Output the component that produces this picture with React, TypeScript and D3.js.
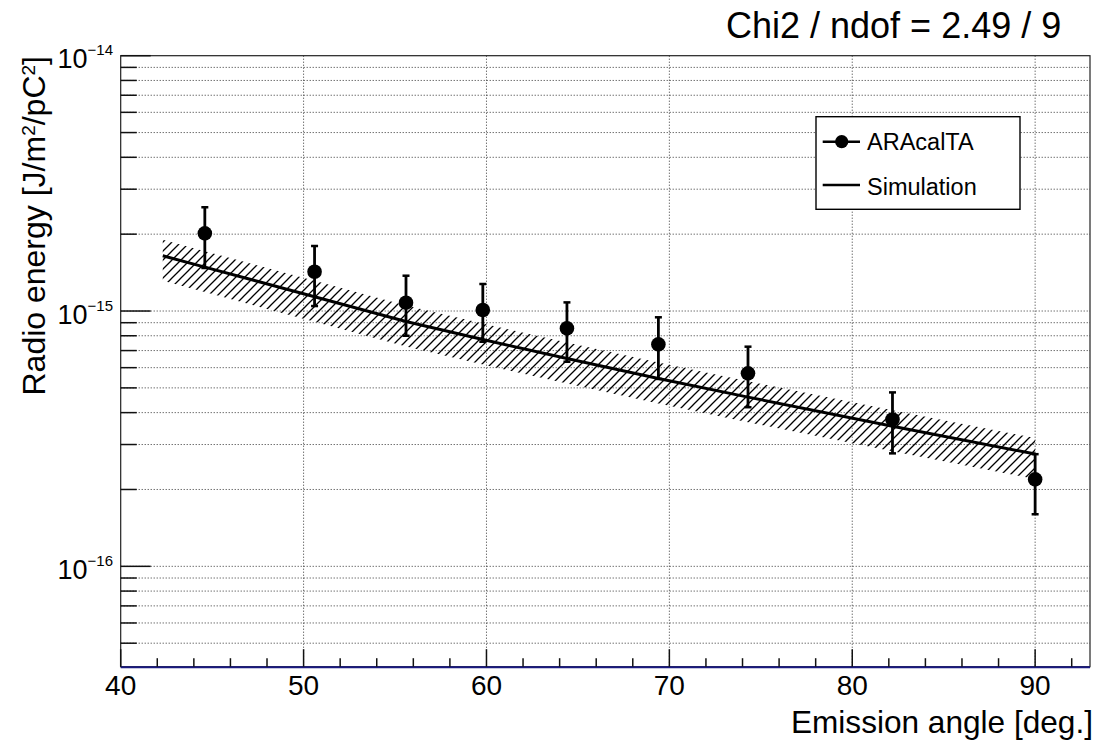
import React from "react";
import * as d3 from "d3";

// ---- data ----
const angles = [44.6, 50.6, 55.6, 59.8, 64.4, 69.4, 74.3, 82.2, 90.0];
const energy = [2.015e-15, 1.425e-15, 1.078e-15, 1.009e-15, 0.855e-15, 0.74e-15, 0.57e-15, 0.376e-15, 0.219e-15];
const energyHigh = [2.547e-15, 1.798e-15, 1.375e-15, 1.276e-15, 1.081e-15, 0.945e-15, 0.725e-15, 0.48e-15, 0.275e-15];
const energyLow = [1.473e-15, 1.046e-15, 0.8e-15, 0.758e-15, 0.633e-15, 0.542e-15, 0.42e-15, 0.277e-15, 0.16e-15];

const simAngles = [42.3, 44.6, 50.6, 55.6, 59.8, 64.4, 69.4, 74.3, 82.2, 90.0];
const simValues = [1.647e-15, 1.486e-15, 1.138e-15, 0.91e-15, 0.773e-15, 0.652e-15, 0.544e-15, 0.46e-15, 0.354e-15, 0.2754e-15];
const simHigh = [1.902e-15, 1.716e-15, 1.314e-15, 1.051e-15, 0.893e-15, 0.753e-15, 0.628e-15, 0.531e-15, 0.409e-15, 0.318e-15];
const simLow = [1.314e-15, 1.186e-15, 0.908e-15, 0.726e-15, 0.617e-15, 0.52e-15, 0.434e-15, 0.367e-15, 0.2825e-15, 0.2198e-15];

const xMajorTicks = [40, 50, 60, 70, 80, 90];
const xDomain = [40, 93];
const yDomain = [4.045e-17, 1e-14];
const yDecadeExponents = [-16, -15, -14];
const legendLabels = ["ARAcalTA", "Simulation"];
const fitText = "Chi2 / ndof = 2.49 / 9";
const xTitle = "Emission angle [deg.]";

const FONT = "'Liberation Sans', Arial, Helvetica, sans-serif";
const W = 1096;
const H = 744;
const L = 120.7, R = 1090, T = 55.7, B = 666.7;

export default function App() {
  const x = d3.scaleLinear().domain(xDomain).range([L, R]);
  const y = d3.scaleLog().domain(yDomain).range([B, T]);

  const xMinor = d3.range(42, 93, 2).filter((v) => v % 10 !== 0);
  const yMinor: number[] = [];
  [-17, -16, -15].forEach((e) => {
    for (let m = 2; m <= 9; m++) {
      const v = m * Math.pow(10, e);
      if (v > yDomain[0] && v < yDomain[1]) yMinor.push(v);
    }
  });
  const yMajor = yDecadeExponents.map((e) => Math.pow(10, e));

  const simIdx = simAngles.map((_, i) => i);
  const band = d3
    .area<number>()
    .x((i) => x(simAngles[i]))
    .y0((i) => y(simLow[i]))
    .y1((i) => y(simHigh[i]))(simIdx) as string;
  const line = d3
    .line<number>()
    .x((i) => x(simAngles[i]))
    .y((i) => y(simValues[i]))(simIdx) as string;

  const gridStyle = { stroke: "#333", strokeWidth: 1, strokeDasharray: "1,2" };

  return (
    <svg
      width={W}
      height={H}
      style={{ position: "absolute", left: 0, top: 0, background: "#fff" }}
      fontFamily={FONT}
    >
      <defs>
        <pattern id="hatch" patternUnits="userSpaceOnUse" width="9" height="9">
          <path d="M0,9 L9,0 M-2,2 L2,-2 M7,11 L11,7" stroke="#000" strokeWidth="1.3" />
        </pattern>
        <clipPath id="frame">
          <rect x={L} y={T} width={R - L} height={B - T} />
        </clipPath>
      </defs>
      <rect x={0} y={0} width={W} height={H} fill="#fff" />

      {/* grid */}
      {xMajorTicks
        .filter((v) => v > xDomain[0])
        .map((v) => (
          <line key={"gx" + v} x1={x(v)} x2={x(v)} y1={T} y2={B} {...gridStyle} />
        ))}
      {[...yMinor, ...yMajor.filter((v) => v < yDomain[1])].map((v) => (
        <line key={"gy" + v} x1={L} x2={R} y1={y(v)} y2={y(v)} {...gridStyle} />
      ))}

      <g clipPath="url(#frame)">
        {/* simulation band */}
        <path d={band} fill="url(#hatch)" stroke="none" />
        {/* simulation line */}
        <path d={line} fill="none" stroke="#000" strokeWidth={3} />

        {/* data points with error bars */}
        {angles.map((a, i) => {
          const cx = x(a);
          return (
            <g key={"p" + i}>
              <line x1={cx} x2={cx} y1={y(energyHigh[i])} y2={y(energyLow[i])} stroke="#000" strokeWidth={2.8} />
              <line x1={cx - 3.5} x2={cx + 3.5} y1={y(energyHigh[i])} y2={y(energyHigh[i])} stroke="#000" strokeWidth={2.5} />
              <line x1={cx - 3.5} x2={cx + 3.5} y1={y(energyLow[i])} y2={y(energyLow[i])} stroke="#000" strokeWidth={2.5} />
              <circle cx={cx} cy={y(energy[i])} r={7.3} fill="#000" />
            </g>
          );
        })}
      </g>

      {/* legend */}
      <rect x={816} y={116.7} width={204} height={92.6} fill="#fff" stroke="#000" strokeWidth={1.4} />
      <line x1={822.7} x2={860} y1={141.7} y2={141.7} stroke="#000" strokeWidth={2.5} />
      <circle cx={841.7} cy={141.7} r={6.6} fill="#000" />
      <text x={867} y={150} fontSize={23.5} fill="#000">{legendLabels[0]}</text>
      <line x1={822.7} x2={860} y1={185} y2={185} stroke="#000" strokeWidth={2.5} />
      <text x={867} y={195} fontSize={23.5} fill="#000">{legendLabels[1]}</text>

      {/* frame */}
      <rect x={L} y={T} width={R - L} height={B - T} fill="none" stroke="#222" strokeWidth={1.2} />
      <line x1={L} x2={R} y1={B + 0.6} y2={B + 0.6} stroke="#1a1a80" strokeWidth={2} />

      {/* x ticks */}
      {xMajorTicks.map((v) => (
        <line key={"xt" + v} x1={x(v)} x2={x(v)} y1={B} y2={B - 17.5} stroke="#111" strokeWidth={1.5} />
      ))}
      {xMinor.map((v) => (
        <line key={"xm" + v} x1={x(v)} x2={x(v)} y1={B} y2={B - 8.5} stroke="#111" strokeWidth={1.5} />
      ))}
      {xMajorTicks.map((v) => (
        <text key={"xl" + v} x={x(v)} y={695} fontSize={28} textAnchor="middle" fill="#000">
          {v}
        </text>
      ))}

      {/* y ticks */}
      {yMajor.map((v) => (
        <line key={"yt" + v} x1={L} x2={L + 30} y1={y(v)} y2={y(v)} stroke="#111" strokeWidth={1.5} />
      ))}
      {yMinor.map((v) => (
        <line key={"ym" + v} x1={L} x2={L + 16} y1={y(v)} y2={y(v)} stroke="#111" strokeWidth={1.5} />
      ))}
      {yDecadeExponents.map((e) => (
        <text key={"yl" + e} x={113} y={y(Math.pow(10, e)) + 12.5} fontSize={27} textAnchor="end" fill="#000">
          <tspan>10</tspan>
          <tspan fontSize={15} dy={-13}>
            {"\u2212" + String(Math.abs(e))}
          </tspan>
        </text>
      ))}

      {/* axis titles */}
      <text x={1093} y={733} fontSize={31.6} textAnchor="end" fill="#000">
        {xTitle}
      </text>
      <text transform="translate(45,56) rotate(-90)" fontSize={32} textAnchor="end" fill="#000">
        <tspan>Radio energy [J/m</tspan>
        <tspan fontSize={19} dy={-10}>2</tspan>
        <tspan dy={10}>/pC</tspan>
        <tspan fontSize={19} dy={-10}>2</tspan>
        <tspan dy={10}>]</tspan>
      </text>

      {/* fit text */}
      <text x={726} y={38} fontSize={36} fill="#000">
        {fitText}
      </text>
    </svg>
  );
}
